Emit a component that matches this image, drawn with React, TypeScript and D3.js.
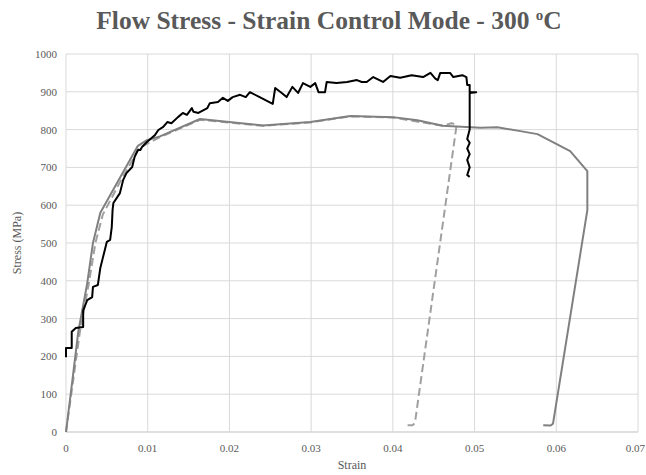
import React from "react";
import * as d3 from "d3";

// Strain (mm/mm) vs stress (MPa) traces
const testBlack: [number, number][] = [
  [0, 198], [0, 222], [0.0007, 222], [0.0007, 265], [0.0012, 275], [0.0021, 278],
  [0.0021, 322], [0.0026, 349], [0.0032, 357], [0.0033, 384], [0.0039, 389],
  [0.0042, 434], [0.0045, 460], [0.005, 503], [0.0054, 508], [0.0056, 542],
  [0.0057, 587], [0.0058, 606], [0.0066, 632], [0.007, 667], [0.0074, 685],
  [0.0081, 701], [0.0084, 728], [0.0088, 746], [0.0091, 746], [0.0093, 754],
  [0.0099, 767], [0.0109, 786], [0.0113, 799], [0.0119, 807], [0.0124, 820],
  [0.0129, 817], [0.0137, 833], [0.0143, 844], [0.0148, 839], [0.0154, 857],
  [0.0156, 847], [0.0162, 844], [0.0173, 857], [0.0176, 870], [0.0186, 873],
  [0.0192, 884], [0.0198, 876], [0.0204, 886], [0.0213, 892], [0.022, 886],
  [0.0225, 899], [0.0237, 886], [0.0253, 868], [0.0256, 910], [0.0264, 897],
  [0.027, 886], [0.0277, 913], [0.0284, 897], [0.029, 923], [0.0299, 913],
  [0.0305, 923], [0.0309, 899], [0.0317, 899], [0.0319, 926], [0.0331, 923],
  [0.0344, 926], [0.0356, 931], [0.0362, 926], [0.0368, 926], [0.0376, 939],
  [0.0388, 926], [0.0397, 942], [0.0409, 937], [0.0423, 944], [0.0437, 939],
  [0.0446, 950], [0.0452, 935], [0.0455, 931], [0.0458, 950], [0.047, 950],
  [0.0474, 939], [0.0485, 944], [0.049, 939], [0.0491, 918], [0.0494, 918],
  [0.0494, 899], [0.0502, 899], [0.0494, 897], [0.0494, 800], [0.0491, 775],
  [0.0494, 765], [0.0491, 750], [0.0494, 735], [0.0491, 720], [0.0494, 700],
  [0.0491, 680], [0.0494, 675],
];

const testSolid: [number, number][] = [
  [0, 0], [0.0008, 140], [0.0015, 265], [0.0026, 394], [0.0033, 500],
  [0.0042, 580], [0.0088, 757], [0.0099, 772], [0.0115, 782], [0.0164, 828],
  [0.0241, 811], [0.0299, 820], [0.0348, 836], [0.04, 833], [0.043, 825],
  [0.0461, 810], [0.0507, 805], [0.0528, 806], [0.0556, 796], [0.0577, 788],
  [0.0617, 743], [0.0638, 690], [0.0638, 587], [0.0596, 22], [0.0593, 17],
  [0.0584, 18],
];

const testDashed: [number, number][] = [
  [0, 0], [0.0009, 140], [0.0017, 265], [0.0028, 394], [0.0036, 500],
  [0.0045, 575], [0.0067, 665], [0.009, 752], [0.0115, 780], [0.0164, 826],
  [0.0241, 810], [0.0299, 819], [0.0348, 835], [0.04, 832], [0.0461, 810],
  [0.0472, 817], [0.0478, 812], [0.0427, 24], [0.0424, 18], [0.0418, 18],
];

const xTicks = [0, 0.01, 0.02, 0.03, 0.04, 0.05, 0.06, 0.07];
const yTicks = [0, 100, 200, 300, 400, 500, 600, 700, 800, 900, 1000];

const W = 646;
const H = 475;
const plot = { left: 66, right: 638, top: 54, bottom: 432 };
const FONT = "'Liberation Serif', 'Times New Roman', serif";
const TEXT = "#595959";

export default function App() {
  const x = d3.scaleLinear().domain([0, 0.07]).range([plot.left, plot.right]);
  const y = d3.scaleLinear().domain([0, 1000]).range([plot.bottom, plot.top]);
  const line = d3
    .line<[number, number]>()
    .x((d) => x(d[0]))
    .y((d) => y(d[1]));

  return (
    <svg
      width={W}
      height={H}
      style={{ position: "absolute", left: 0, top: 0, background: "#fff" }}
      fontFamily={FONT}
    >
      <text
        x={329}
        y={29}
        textAnchor="middle"
        fontSize={25.5}
        fontWeight="bold"
        fill={TEXT}
      >
        Flow Stress - Strain Control Mode - 300{" "}
        <tspan fontSize={15} dy={-9}>o</tspan>
        <tspan dy={9}>C</tspan>
      </text>

      {/* grid */}
      {yTicks.map((t) => (
        <line
          key={"gy" + t}
          x1={plot.left}
          x2={plot.right}
          y1={y(t)}
          y2={y(t)}
          stroke={t === 0 ? "#bfbfbf" : "#d9d9d9"}
          strokeWidth={1}
        />
      ))}
      {xTicks.map((t) => (
        <line
          key={"gx" + t}
          x1={x(t)}
          x2={x(t)}
          y1={plot.top}
          y2={plot.bottom}
          stroke="#d9d9d9"
          strokeWidth={1}
        />
      ))}

      {/* tick labels */}
      {yTicks.map((t) => (
        <text
          key={"ly" + t}
          x={plot.left - 9}
          y={y(t) + 4}
          textAnchor="end"
          fontSize={11}
          fill={TEXT}
        >
          {t}
        </text>
      ))}
      {xTicks.map((t, i) => (
        <text
          key={"lx" + t}
          x={i === xTicks.length - 1 ? W - 1 : x(t)}
          y={plot.bottom + 20}
          textAnchor={i === xTicks.length - 1 ? "end" : "middle"}
          fontSize={11}
          fill={TEXT}
        >
          {t}
        </text>
      ))}

      <text
        x={352}
        y={469}
        textAnchor="middle"
        fontSize={12}
        fill={TEXT}
      >
        Strain
      </text>
      <text
        transform={`translate(21, ${(plot.top + plot.bottom) / 2}) rotate(-90)`}
        textAnchor="middle"
        fontSize={12}
        fill={TEXT}
      >
        Stress (MPa)
      </text>

      {/* series */}
      <path
        d={line(testDashed) ?? ""}
        fill="none"
        stroke="#a0a0a0"
        strokeWidth={2}
        strokeDasharray="8,4"
      />
      <path
        d={line(testSolid) ?? ""}
        fill="none"
        stroke="#808080"
        strokeWidth={2}
        strokeLinejoin="round"
      />
      <path
        d={line(testBlack) ?? ""}
        fill="none"
        stroke="#000"
        strokeWidth={2}
        strokeLinejoin="round"
      />
    </svg>
  );
}
